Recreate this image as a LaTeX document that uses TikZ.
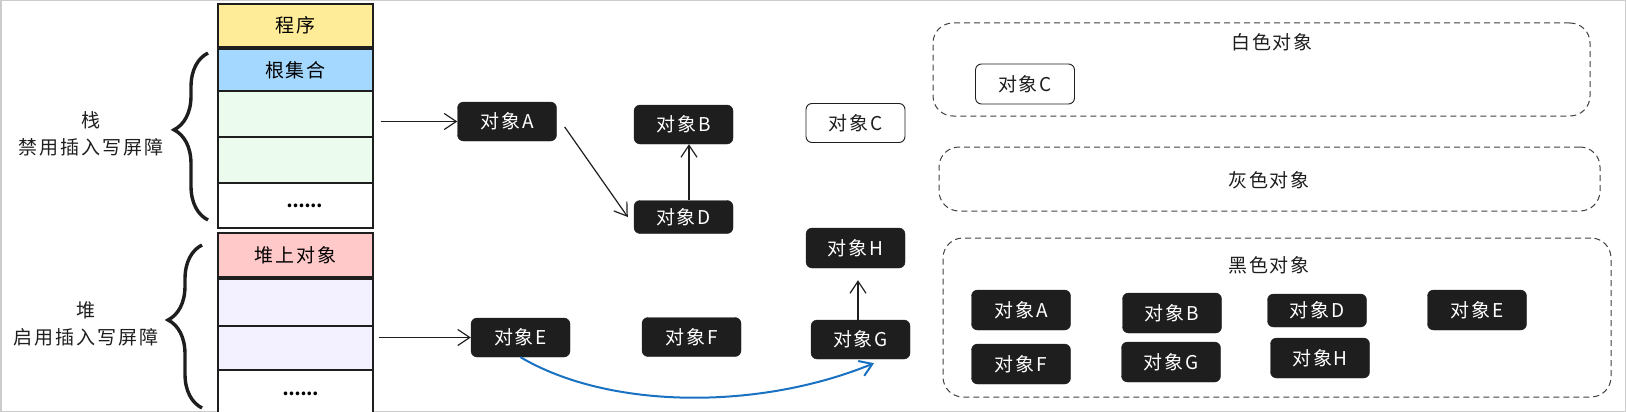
\documentclass[tikz,border=0pt]{standalone}
\usepackage{fontspec}
\setmainfont{Noto Sans CJK SC}[LetterSpace=10]
\usepackage{xcolor}
\usetikzlibrary{arrows.meta}
\usetikzlibrary{decorations.pathreplacing}

\definecolor{progyellow}{HTML}{FFEC99}
\definecolor{rootblue}{HTML}{A5D8FF}
\definecolor{stackgreen}{HTML}{EBFBEE}
\definecolor{heappink}{HTML}{FFC9C9}
\definecolor{heappurple}{HTML}{F3F0FF}
\definecolor{objblack}{HTML}{1E1E1E}
\definecolor{linkblue}{HTML}{1971C2}

\begin{document}
\begin{tikzpicture}[x=1pt, y=-1pt,
        cell/.style={draw=objblack, line width=1.3pt, minimum width=155pt, inner sep=0pt,
            font=\fontsize{19}{20}\selectfont},
        dotcell/.style={cell, fill=white, font=\fontsize{17}{20}\selectfont\addfontfeature{LetterSpace=0}\bfseries},
        obj/.style={fill=objblack, draw=objblack, rounded corners=6pt, text=white,
            minimum width=99pt, minimum height=39pt, inner sep=0pt, font=\fontsize{19}{20}\selectfont},
        whiteobj/.style={obj, fill=white, text=objblack, line width=0.9pt},
        bigobj/.style={obj, minimum height=40pt},
        group/.style={draw=objblack!85, dash pattern=on 6pt off 4pt, rounded corners=20pt,
            line width=1pt, inner sep=0pt},
        grouptitle/.style={font=\fontsize{19}{20}\selectfont, text=objblack},
        sidetext/.style={align=center, font=\fontsize{19}{27}\selectfont, text=objblack},
        bracket/.style={decorate, decoration={brace, amplitude=34pt, aspect=0.54},
            line width=3.4pt, draw=objblack},
        link/.style={-{Straight Barb[length=12pt,width=16pt]}, line width=1.2pt, draw=objblack},
        bluelink/.style={link, draw=linkblue, line width=2pt}
    ]
        \useasboundingbox (0,0) rectangle (1626,412);
        \draw[gray!40, line width=1.5pt] (0.75,0.75) rectangle (1625.25,411.25);

        \node[cell, fill=progyellow, minimum height=43pt] (prog) at (295.5,25.5) {程序};
        \node[cell, fill=rootblue, minimum height=42pt] (root) at (295.5,70) {根集合};
        \node[cell, fill=stackgreen, minimum height=46pt] (s1) at (295.5,114) {};
        \node[cell, fill=stackgreen, minimum height=46pt] (s2) at (295.5,160) {};
        \node[dotcell, minimum height=45pt] (sdots) at (295.5,205.5) {\hspace{18pt}......};
        \node[cell, fill=heappink, minimum height=44pt] (hobj) at (295.5,255) {堆上对象};
        \node[cell, fill=heappurple, minimum height=47pt] (h1) at (295.5,302.5) {};
        \node[cell, fill=heappurple, minimum height=44pt] (h2) at (295.5,348) {};
        \node[dotcell, minimum height=48pt] (hdots) at (295.5,394) {\hspace{10pt}......};

        \draw[bracket] (208,220) -- (208,53);
        \draw[bracket] (202,408) -- (202,245);
        \node[sidetext] (stacktxt) at (91,134) {栈\\禁用插入写屏障};
        \node[sidetext] (heaptxt) at (86,324) {堆\\启用插入写屏障};

        \node[obj] (objA) at (507,121.5) {对象A};
        \node[obj] (objB) at (683.5,124.5) {对象B};
        \node[whiteobj] (objC) at (855.5,123) {对象C};
        \node[obj, minimum height=33pt] (objD) at (683.5,217) {对象D};
        \node[obj, minimum height=40pt] (objH) at (855.5,248) {对象H};
        \node[obj] (objE) at (520.5,337.5) {对象E};
        \node[obj] (objF) at (691.5,337) {对象F};
        \node[obj] (objG) at (860.5,339.5) {对象G};

        \draw[link] ([xshift=7pt]s1.east |- objA.west) -- (objA.west);
        \draw[link] ([xshift=5pt]h2.east |- objE.west) -- (objE.west);
        \draw[link] ([xshift=8pt,yshift=-5.5pt]objA.east) -- ([xshift=-6pt]objD.west);
        \draw[link] ([xshift=5.5pt]objD.north) -- ([xshift=5.5pt]objB.south);
        \draw[link, shorten >=12pt] ([xshift=-2.5pt]objG.north) -- ([xshift=2.5pt]objH.south);
        \draw[bluelink] (objE.south) .. controls (610,410) and (760,410) .. ([xshift=13.5pt,yshift=-4pt]objG.south);

        \node[group, minimum width=657pt, minimum height=93pt] (whitebox) at (1261.5,69.5) {};
        \node[group, minimum width=661pt, minimum height=64pt] (graybox) at (1269.5,179) {};
        \node[group, minimum width=668pt, minimum height=159pt] (blackbox) at (1277,317.5) {};
        \node[grouptitle] (whitetitle) at (1272,42) {白色对象};
        \node[grouptitle] (graytitle) at (1269,180) {灰色对象};
        \node[grouptitle] (blacktitle) at (1269,265) {黑色对象};

        \node[whiteobj, minimum height=40pt] (wobjC) at (1025,84) {对象C};
        \node[bigobj] (bobjA) at (1021,310) {对象A};
        \node[bigobj] (bobjB) at (1172,313) {对象B};
        \node[bigobj, minimum height=33pt] (bobjD) at (1317,310.5) {对象D};
        \node[bigobj] (bobjE) at (1477,310) {对象E};
        \node[bigobj] (bobjF) at (1021,364) {对象F};
        \node[bigobj] (bobjG) at (1171,362) {对象G};
        \node[bigobj] (bobjH) at (1320,358) {对象H};
\end{tikzpicture}
\end{document}
